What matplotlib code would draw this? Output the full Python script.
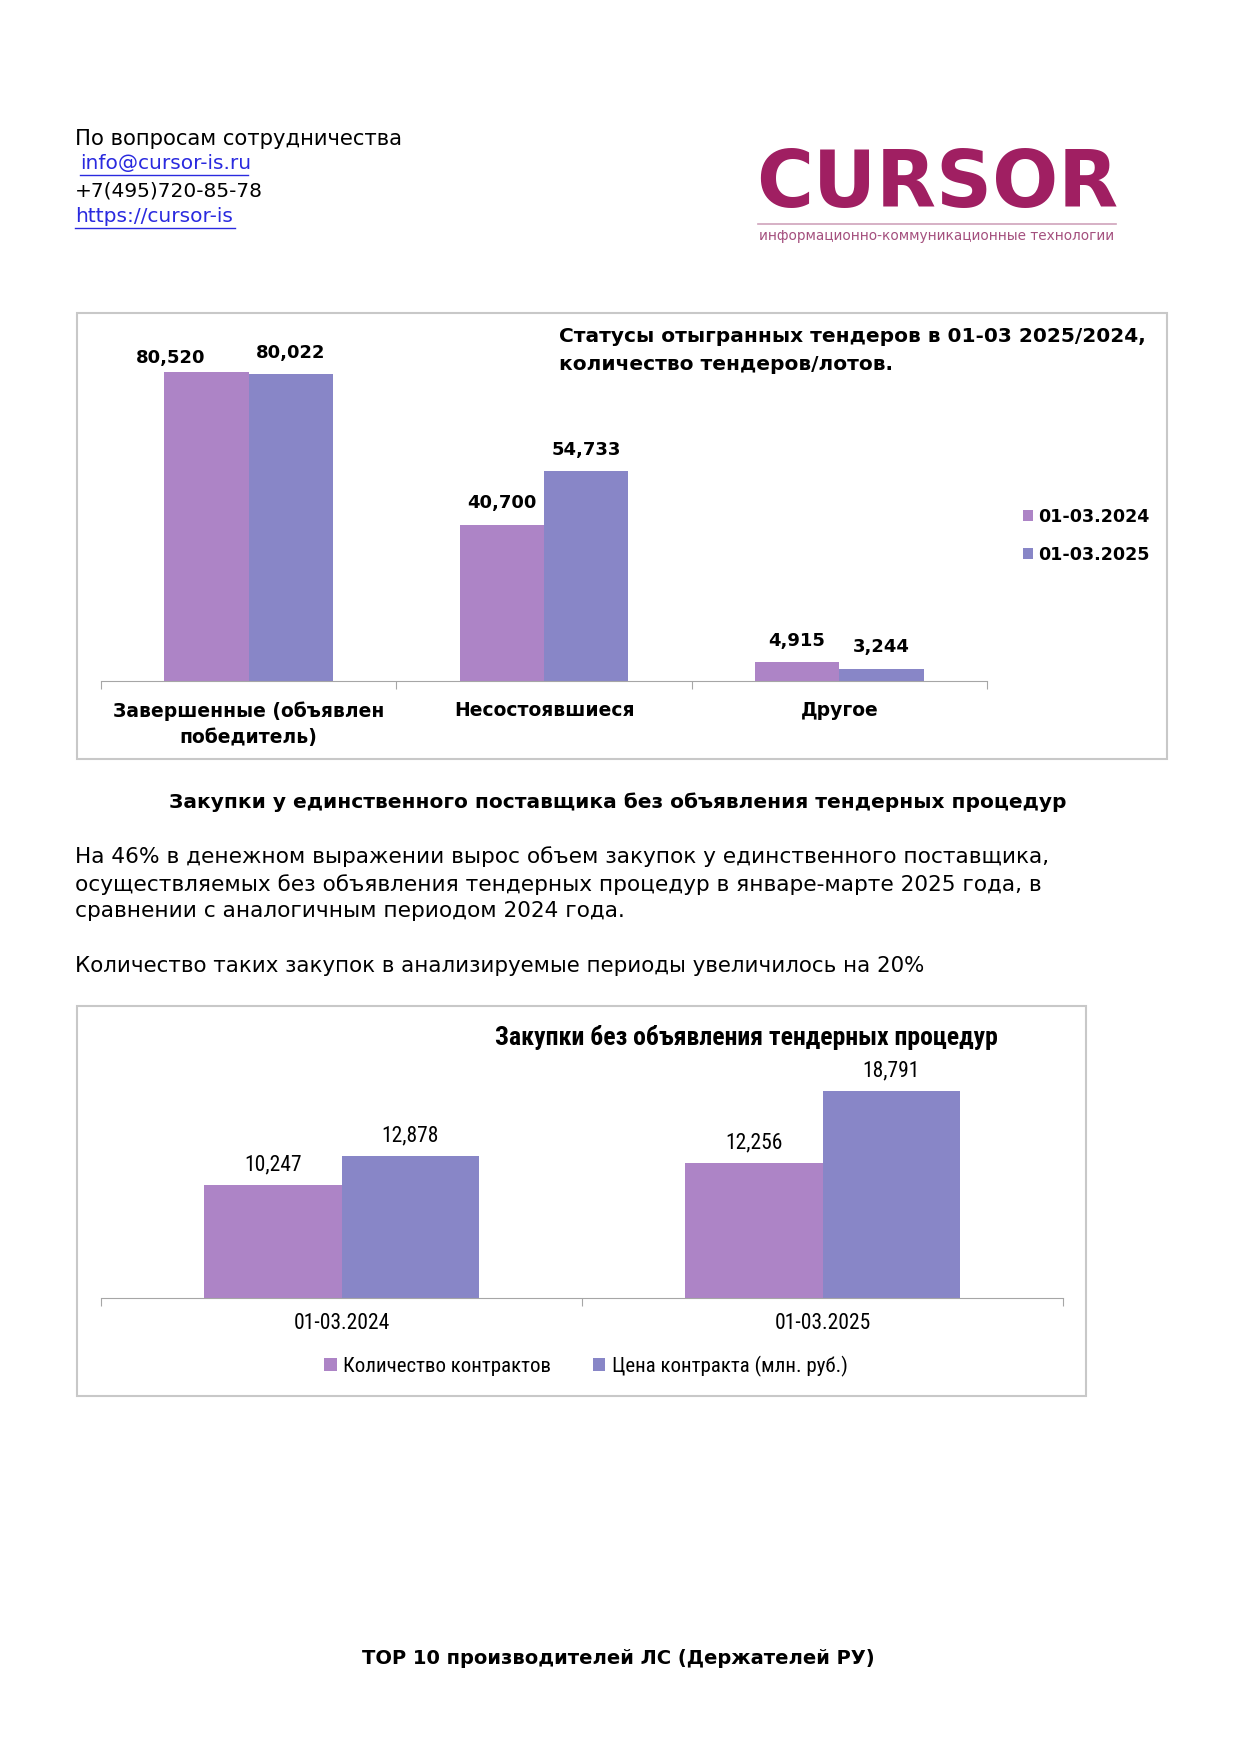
import matplotlib
matplotlib.use("Agg")
import matplotlib.pyplot as plt
import matplotlib.font_manager as fm
from matplotlib.patches import Rectangle
import numpy as np

# data: chart 1 - tender statuses
status_cats = ["Завершенные (объявлен\nпобедитель)", "Несостоявшиеся", "Другое"]
status_2024 = [80520, 40700, 4915]
status_2025 = [80022, 54733, 3244]
status_series = ["01-03.2024", "01-03.2025"]

# data: chart 2 - purchases without tender
period_cats = ["01-03.2024", "01-03.2025"]
contracts_count = [10247, 12256]
contracts_price = [12878, 18791]
period_series = ["Количество контрактов", "Цена контракта (млн. руб.)"]

C1 = "#ad84c6"
C2 = "#8886c7"
W, H = 1240, 1755

installed = {f.name for f in fm.fontManager.ttflist}
narrow = "DejaVu Sans"
for name in ["Liberation Sans Narrow", "Roboto Condensed", "Open Sans Condensed", "Roboto"]:
    if name in installed:
        narrow = name
        break
body = "DejaVu Sans"
plt.rcParams["font.family"] = [body]


def fx(x):
    return x / W


def fy(y):
    return 1 - y / H


fig = plt.figure(figsize=(W / 100, H / 100), dpi=100)

# header contacts
fig.text(fx(75), fy(139), "По вопросам сотрудничества", fontsize=15.2, va="center")
fig.text(fx(80), fy(164), "info@cursor-is.ru", fontsize=14.5, va="center", color="#2a2adf")
fig.text(fx(75), fy(191), "+7(495)720-85-78", fontsize=14.5, va="center")
fig.text(fx(75), fy(217), "https://cursor-is", fontsize=14.5, va="center", color="#2a2adf")
for x0, x1, y in [(80, 248, 175), (75, 235, 228)]:
    fig.add_artist(plt.Line2D([fx(x0), fx(x1)], [fy(y), fy(y)], transform=fig.transFigure,
                              color="#2a2adf", lw=1))

# logo
fig.text(fx(937), fy(185), "CURSOR", fontsize=56, fontweight="heavy", color="#a01f62",
         ha="center", va="center")
fig.add_artist(plt.Line2D([fx(758), fx(1116)], [fy(224), fy(224)], transform=fig.transFigure,
                          color="#cfa3bb", lw=1.2))
fig.text(fx(937), fy(236), "информационно-коммуникационные технологии", fontsize=9.8,
         color="#a4507e", ha="center", va="center")

# chart 1 frame
fig.add_artist(Rectangle((fx(77), fy(759)), fx(1167) - fx(77), fy(313) - fy(759),
                         transform=fig.transFigure, fill=False, ec="#c8c8c8", lw=1.5))

ax1 = fig.add_axes([fx(101), fy(681), fx(987) - fx(101), (681 - 336) / H])
w = 0.286
x = np.arange(len(status_cats)) + 0.5
b1 = ax1.bar(x - w / 2, status_2024, w, color=C1, label=status_series[0])
b2 = ax1.bar(x + w / 2, status_2025, w, color=C2, label=status_series[1])
for bars in (b1, b2):
    for r in bars:
        off = (0, 9)
        if r is b1[0]:
            off = (-26, 4)
        ax1.annotate(f"{int(r.get_height()):,}", (r.get_x() + r.get_width() / 2, r.get_height()),
                     xytext=off, textcoords="offset points", ha="center", va="bottom",
                     fontsize=13, fontweight="bold")
ax1.set_xlim(0, 3)
ax1.set_ylim(0, 90000)
ax1.set_xticks([0, 1, 2, 3])
ax1.set_xticklabels([])
ax1.set_xticks(x, minor=True)
ax1.set_xticklabels(status_cats, minor=True, fontsize=13.5, fontweight="bold", linespacing=1.5)
ax1.tick_params(axis="x", which="major", length=6, color="#a6a6a6")
ax1.tick_params(axis="x", which="minor", length=0, pad=14.5)
ax1.set_yticks([])
for s in ["top", "left", "right"]:
    ax1.spines[s].set_visible(False)
ax1.spines["bottom"].set_color("#a6a6a6")
ax1.patch.set_alpha(0)
fig.text(fx(559), fy(350), "Статусы отыгранных тендеров в 01-03 2025/2024,\nколичество тендеров/лотов.",
         fontsize=14.5, fontweight="bold", va="center", linespacing=1.6)
fig.legend(handles=[b1, b2], labels=status_series, loc="center left",
           bbox_to_anchor=(fx(1007), fy(536)), frameon=False, handlelength=0.6, handleheight=0.6,
           handletextpad=0.3, labelspacing=1.15, prop={"weight": "bold", "size": 12.6})

# text block
fig.text(fx(618), fy(802), "Закупки у единственного поставщика без объявления тендерных процедур",
         fontsize=14.5, fontweight="bold", ha="center", va="center")
para = ("На 46% в денежном выражении вырос объем закупок у единственного поставщика,\n"
        "осуществляемых без объявления тендерных процедур в январе-марте 2025 года, в\n"
        "сравнении с аналогичным периодом 2024 года.")
fig.text(fx(75), fy(884), para, fontsize=15.6, va="center", linespacing=1.4)
fig.text(fx(75), fy(966), "Количество таких закупок в анализируемые периоды увеличилось на 20%",
         fontsize=15.4, va="center")

# chart 2 frame
fig.add_artist(Rectangle((fx(77), fy(1396)), fx(1086) - fx(77), fy(1006) - fy(1396),
                         transform=fig.transFigure, fill=False, ec="#c8c8c8", lw=1.5))

ax2 = fig.add_axes([fx(101), fy(1298), fx(1063) - fx(101), (1298 - 1078) / H])
x2 = np.arange(len(period_cats)) + 0.5
c1 = ax2.bar(x2 - w / 2, contracts_count, w, color=C1, label=period_series[0])
c2 = ax2.bar(x2 + w / 2, contracts_price, w, color=C2, label=period_series[1])
for bars in (c1, c2):
    for r in bars:
        ax2.annotate(f"{int(r.get_height()):,}", (r.get_x() + r.get_width() / 2, r.get_height()),
                     xytext=(0, 7), textcoords="offset points", ha="center", va="bottom",
                     fontsize=15.5, family=narrow)
ax2.set_xlim(0, 2)
ax2.set_ylim(0, 20000)
ax2.set_xticks([0, 1, 2])
ax2.set_xticklabels([])
ax2.set_xticks(x2, minor=True)
ax2.set_xticklabels(period_cats, minor=True, fontsize=15.5, family=narrow)
ax2.tick_params(axis="x", which="major", length=6, color="#a6a6a6")
ax2.tick_params(axis="x", which="minor", length=0, pad=11)
ax2.set_yticks([])
for s in ["top", "left", "right"]:
    ax2.spines[s].set_visible(False)
ax2.spines["bottom"].set_color("#a6a6a6")
ax2.patch.set_alpha(0)
fig.text(fx(746), fy(1038), "Закупки без объявления тендерных процедур", fontsize=18.5,
         fontweight="bold", family=narrow, ha="center", va="center")
fig.legend(handles=[c1, c2], labels=period_series, loc="center", ncol=2,
           bbox_to_anchor=(fx(586), fy(1366)), frameon=False, handlelength=0.6, handleheight=0.6,
           handletextpad=0.3, columnspacing=2.0, prop={"family": narrow, "size": 15})

fig.text(fx(618), fy(1658), "TOP 10 производителей ЛС (Держателей РУ)", fontsize=14,
         fontweight="bold", ha="center", va="center")

fig.savefig("out.png", dpi=100)
